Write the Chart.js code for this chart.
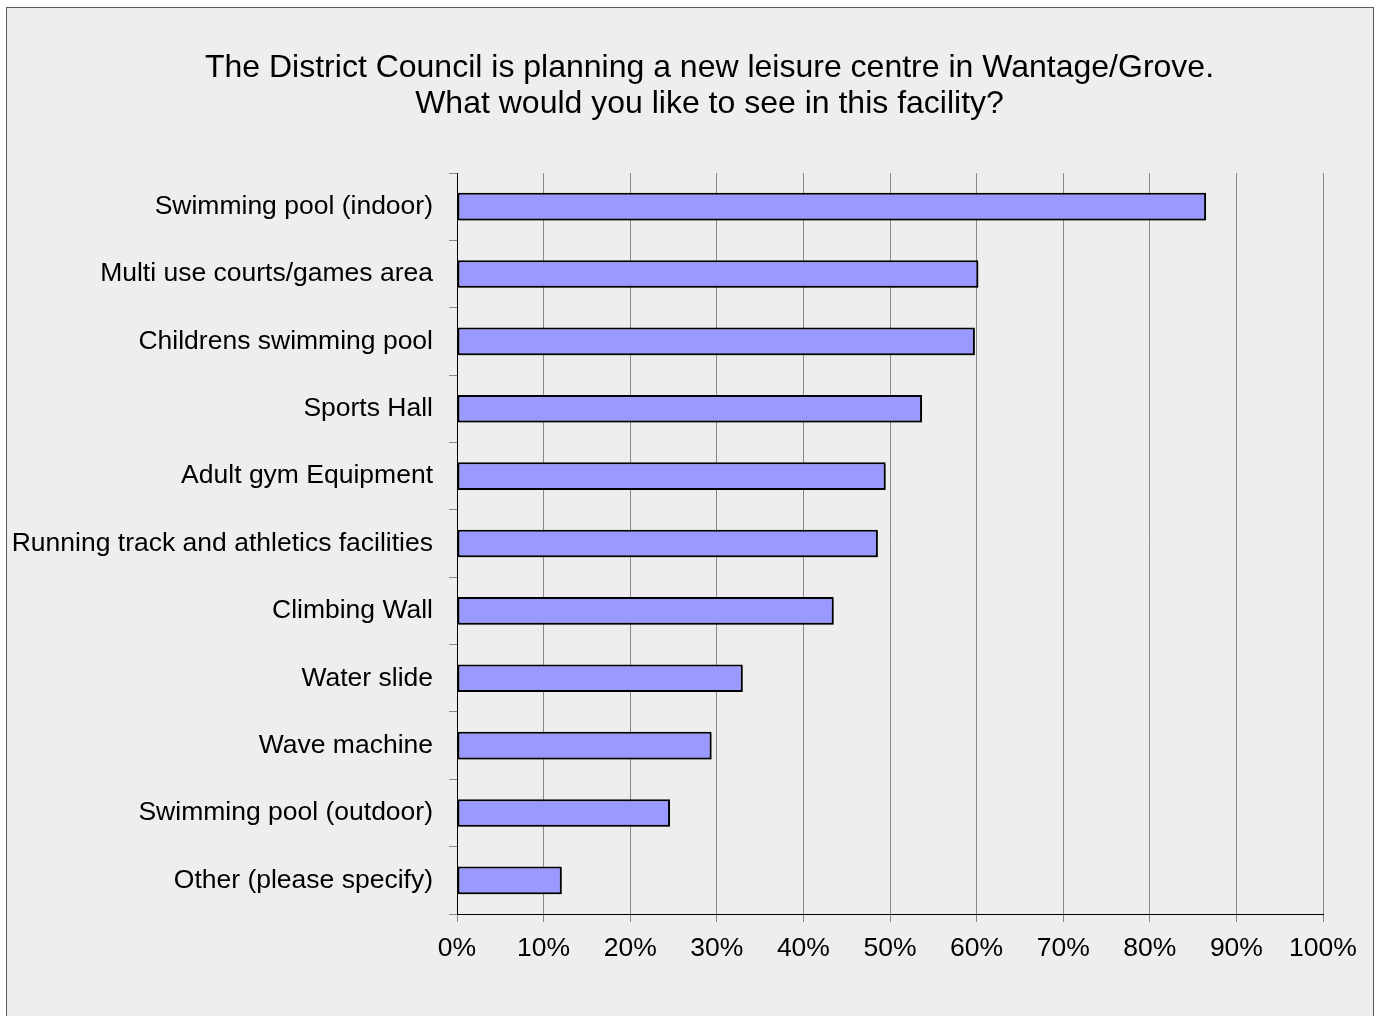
<!DOCTYPE html>
<html>
<head>
<meta charset="utf-8">
<script src="https://cdn.jsdelivr.net/npm/chart.js@4/dist/chart.umd.min.js"></script>
<style>
  html, body { margin: 0; padding: 0; background: #ffffff; overflow: hidden; }
  #frame {
    position: absolute; left: 6px; top: 7px; width: 1366px; height: 1030px;
    background: #eeeeee; border: 1.5px solid #5a5a5a;
  }
  #wrap { position: absolute; left: 0; top: 0; width: 1379px; height: 1016px; }
</style>
</head>
<body>
<div id="frame"></div>
<div id="wrap"><canvas id="chart" width="1379" height="1016"></canvas></div>
<script>
var categories = [
  "Swimming pool (indoor)",
  "Multi use courts/games area",
  "Childrens swimming pool",
  "Sports Hall",
  "Adult gym Equipment",
  "Running track and athletics facilities",
  "Climbing Wall",
  "Water slide",
  "Wave machine",
  "Swimming pool (outdoor)",
  "Other (please specify)"
];
var percents = [86.5, 60.2, 59.8, 53.7, 49.5, 48.6, 43.5, 33.0, 29.4, 24.6, 12.1];
var titleLines = [
  "The District Council is planning a new leisure centre in Wantage/Grove.",
  "What would you like to see in this facility?"
];

var fontFamily = "'Liberation Sans', Arial, Helvetica, sans-serif";

// light drop shadow under the bars, like the spreadsheet export
var barShadow = {
  id: 'barShadow',
  beforeDatasetsDraw: function(chart) {
    var ctx = chart.ctx;
    ctx.save();
    ctx.shadowColor = 'rgba(0,0,0,0.35)';
    ctx.shadowOffsetX = 2;
    ctx.shadowOffsetY = 2;
    ctx.shadowBlur = 1;
  },
  afterDatasetsDraw: function(chart) {
    chart.ctx.restore();
  }
};

// title is centred on the frame, not on the plot, so draw it here
var titleText = {
  id: 'titleText',
  afterDraw: function(chart) {
    var ctx = chart.ctx;
    ctx.save();
    ctx.fillStyle = '#000000';
    ctx.font = '32px ' + fontFamily;
    ctx.textAlign = 'center';
    ctx.textBaseline = 'middle';
    for (var i = 0; i < titleLines.length; i++) {
      ctx.fillText(titleLines[i], 709.5, 68 + i * 36);
    }
    ctx.restore();
  }
};

var ctx = document.getElementById('chart').getContext('2d');
var chart = new Chart(ctx, {
  type: 'bar',
  data: {
    labels: categories,
    datasets: [{
      data: percents,
      backgroundColor: '#9999ff',
      borderColor: '#000000',
      borderWidth: 2,
      borderSkipped: false,
      categoryPercentage: 1,
      barPercentage: 0.41
    }]
  },
  options: {
    indexAxis: 'y',
    responsive: false,
    animation: false,
    layout: {
      padding: { left: 0, right: 56, top: 173, bottom: 0 }
    },
    plugins: {
      legend: { display: false },
      tooltip: { enabled: false },
      title: { display: false }
    },
    scales: {
      x: {
        min: 0,
        max: 100,
        ticks: {
          stepSize: 10,
          color: '#000000',
          padding: 11,
          maxRotation: 0,
          font: { family: fontFamily, size: 26.5 },
          callback: function(v) { return v + '%'; }
        },
        grid: {
          color: '#888888',
          lineWidth: 1,
          tickLength: 8,
          drawOnChartArea: true
        },
        border: { color: '#000000', width: 1 },
        afterFit: function(scale) { scale.height = 102; }
      },
      y: {
        ticks: {
          color: '#000000',
          padding: 16,
          font: { family: fontFamily, size: 26.5 }
        },
        grid: {
          color: '#888888',
          drawOnChartArea: false,
          drawTicks: true,
          tickLength: 8,
          offset: true
        },
        border: { color: '#000000', width: 1 },
        afterFit: function(scale) { scale.width = 457; }
      }
    }
  },
  plugins: [barShadow, titleText]
});
</script>
</body>
</html>
